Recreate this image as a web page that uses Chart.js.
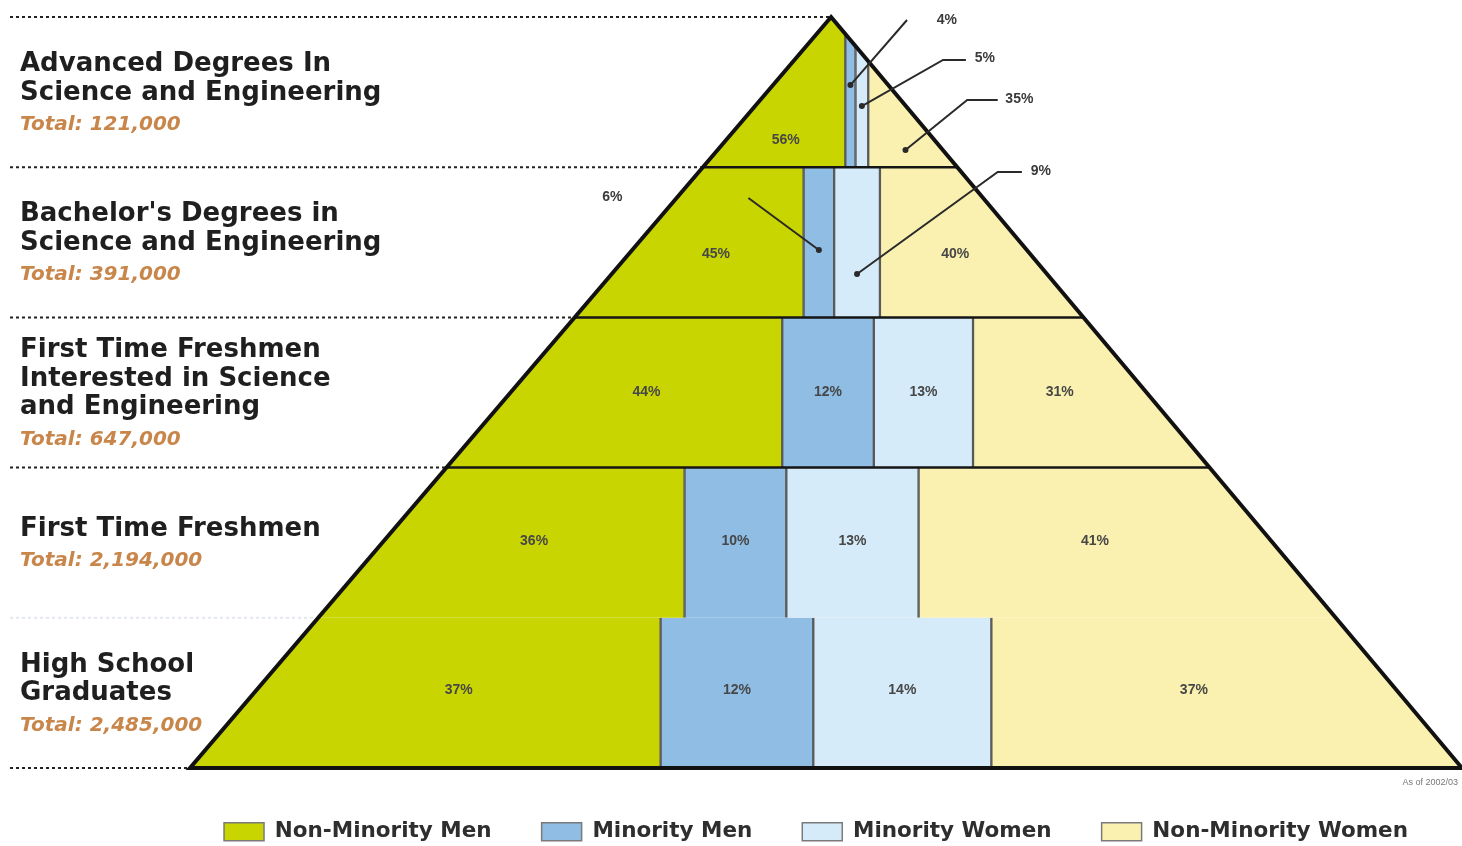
<!DOCTYPE html>
<html>
<head>
<meta charset="utf-8">
<script src="https://cdn.jsdelivr.net/npm/chart.js@4.4.1/dist/chart.umd.min.js"></script>
<style>
  html, body { margin: 0; padding: 0; background: #ffffff; overflow: hidden; }
  #wrap { width: 1462px; height: 846px; position: relative; }
</style>
</head>
<body>
<div id="wrap"><canvas id="c"></canvas></div>
<script>
// ---------------- DATA ----------------
const categories = [
  'Advanced Degrees in Science and Engineering',
  "Bachelor's Degrees in Science and Engineering",
  'First Time Freshmen Interested in Science and Engineering',
  'First Time Freshmen',
  'High School Graduates'
];
const categoryTitleLines = [
  ['Advanced Degrees In', 'Science and Engineering'],
  ["Bachelor's Degrees in", 'Science and Engineering'],
  ['First Time Freshmen', 'Interested in Science', 'and Engineering'],
  ['First Time Freshmen'],
  ['High School', 'Graduates']
];
const totals = [121000, 391000, 647000, 2194000, 2485000];
const seriesNames = ['Non-Minority Men', 'Minority Men', 'Minority Women', 'Non-Minority Women'];
const nonMinorityMen   = [56, 45, 44, 36, 37];
const minorityMen      = [4, 6, 12, 10, 12];
const minorityWomen    = [5, 9, 13, 13, 14];
const nonMinorityWomen = [35, 40, 31, 41, 37];
const seriesColors = ['#c9d500', '#8fbde4', '#d6ebfa', '#faf1b0'];
const sourceNote = 'As of 2002/03';

// ---------------- GEOMETRY (pyramid in x-axis units) ----------------
const seriesValues = [nonMinorityMen, minorityMen, minorityWomen, nonMinorityWomen];
const nRows = categories.length;
const BASE_LEFT = -50.4, BASE_RIGHT = 49.6;   // pyramid base, apex at x = 0
const X_MIN = -51.972, X_MAX = BASE_RIGHT;    // axis range around the pyramid
function rowSpan(k) { const f = (k + 1) / nRows; return [BASE_LEFT * f, BASE_RIGHT * f]; }
function floatingData(j) {
  return categories.map((c, k) => {
    const [a, b] = rowSpan(k); const w = b - a;
    let cum = 0; for (let i = 0; i < j; i++) cum += seriesValues[i][k];
    return [a + w * cum / 100, a + w * (cum + seriesValues[j][k]) / 100];
  });
}

// label placement (row-relative) and callouts (axis units; t = continuous row coordinate)
const labelT = [0.82, 1.58, 2.5, 3.49, 4.48];
const callouts = [
  { row: 0, series: 1, dotT: 0.453, path: [[5.97, 0.02]], label: [8.3, 0.02], align: 'left' },
  { row: 0, series: 2, dotT: 0.593, path: [[8.8, 0.286], [10.6, 0.286]], label: [11.3, 0.275], align: 'left' },
  { row: 0, series: 3, dotT: 0.885, path: [[10.7, 0.553], [13.1, 0.553]], label: [13.7, 0.546], align: 'left' },
  { row: 1, series: 2, dotT: 1.711, path: [[13.1, 1.032], [15.0, 1.032]], label: [15.7, 1.025], align: 'left' },
  { row: 1, series: 1, dotT: 1.551, path: [[-6.5, 1.205]], label: [-16.4, 1.198], align: 'right' }
];
const solidSeparators = [1, 2, 3];

function geom(chart) {
  const xs = chart.scales.x, ys = chart.scales.y;
  const band = ys.getPixelForValue(1) - ys.getPixelForValue(0);
  const top = ys.getPixelForValue(0) - band / 2;
  const bottom = top + nRows * band;
  const apexX = xs.getPixelForValue(0);
  const leftX = xs.getPixelForValue(BASE_LEFT);
  const rightX = xs.getPixelForValue(BASE_RIGHT);
  const yAt = t => top + t * band;
  const leftEdge = py => apexX + (leftX - apexX) * (py - top) / (bottom - top);
  const rightEdge = py => apexX + (rightX - apexX) * (py - top) / (bottom - top);
  return { xs, ys, band, top, bottom, apexX, leftX, rightX, yAt, leftEdge, rightEdge };
}

const pyramidPlugin = {
  id: 'pyramid',
  beforeDatasetsDraw(chart) {
    const g = geom(chart), ctx = chart.ctx;
    ctx.save();
    ctx.beginPath();
    ctx.moveTo(g.apexX, g.top);
    ctx.lineTo(g.rightX, g.bottom);
    ctx.lineTo(g.leftX, g.bottom);
    ctx.closePath();
    ctx.clip();
  },
  afterDatasetsDraw(chart) {
    const ctx = chart.ctx;
    ctx.restore();
    const g = geom(chart);

    // dashed guide lines on the left
    for (let k = 0; k <= nRows; k++) {
      const py = g.top + k * g.band;
      ctx.save();
      ctx.setLineDash([3, 3]);
      ctx.lineWidth = 2;
      ctx.strokeStyle = (k === 4) ? '#e3e8ef' : '#222';
      ctx.beginPath();
      ctx.moveTo(10, py);
      ctx.lineTo(g.leftEdge(py), py);
      ctx.stroke();
      ctx.restore();
    }

    // row separators inside the pyramid
    ctx.save();
    ctx.strokeStyle = '#151515';
    ctx.lineWidth = 2.5;
    solidSeparators.forEach(k => {
      const py = g.top + k * g.band;
      ctx.beginPath();
      ctx.moveTo(g.leftEdge(py), py);
      ctx.lineTo(g.rightEdge(py), py);
      ctx.stroke();
    });
    ctx.restore();

    // outline
    ctx.save();
    ctx.strokeStyle = '#111';
    ctx.lineWidth = 4;
    ctx.lineJoin = 'miter';
    ctx.beginPath();
    ctx.moveTo(g.apexX, g.top);
    ctx.lineTo(g.rightX, g.bottom);
    ctx.lineTo(g.leftX, g.bottom);
    ctx.closePath();
    ctx.stroke();
    ctx.restore();

    // segment value labels
    const calloutKeys = new Set(callouts.map(c => c.row + ':' + c.series));
    const segX = (k, j, py) => {
      const d = chart.data.datasets[j].data[k];
      const a = Math.max(g.xs.getPixelForValue(d[0]), g.leftEdge(py));
      const b = Math.min(g.xs.getPixelForValue(d[1]), g.rightEdge(py));
      return (a + b) / 2;
    };
    ctx.save();
    ctx.font = 'bold 14px "Liberation Sans", Arial, sans-serif';
    ctx.fillStyle = '#474747';
    ctx.textAlign = 'center';
    ctx.textBaseline = 'middle';
    for (let k = 0; k < nRows; k++) {
      const py = g.yAt(labelT[k]);
      for (let j = 0; j < seriesValues.length; j++) {
        if (calloutKeys.has(k + ':' + j)) continue;
        ctx.fillText(seriesValues[j][k] + '%', segX(k, j, py), py);
      }
    }
    ctx.restore();

    // callouts
    ctx.save();
    ctx.strokeStyle = '#2a2a2a';
    ctx.fillStyle = '#2a2a2a';
    ctx.lineWidth = 2;
    ctx.font = 'bold 14px "Liberation Sans", Arial, sans-serif';
    ctx.textBaseline = 'middle';
    callouts.forEach(c => {
      const dy = g.yAt(c.dotT);
      const dx = segX(c.row, c.series, dy);
      ctx.beginPath();
      ctx.moveTo(dx, dy);
      c.path.forEach(p => ctx.lineTo(g.xs.getPixelForValue(p[0]), g.yAt(p[1])));
      ctx.stroke();
      ctx.beginPath();
      ctx.arc(dx, dy, 3, 0, Math.PI * 2);
      ctx.fill();
      ctx.textAlign = c.align;
      ctx.fillStyle = '#3a3a3a';
      ctx.fillText(seriesValues[c.series][c.row] + '%', g.xs.getPixelForValue(c.label[0]), g.yAt(c.label[1]));
      ctx.fillStyle = '#2a2a2a';
    });
    ctx.restore();

    // row titles and totals on the left
    ctx.save();
    ctx.textAlign = 'left';
    ctx.textBaseline = 'middle';
    for (let k = 0; k < nRows; k++) {
      const lines = categoryTitleLines[k];
      const center = g.top + (k + 0.5) * g.band;
      const span = (lines.length - 1) * 28.5 + 32;
      let y = center - span / 2 + 2.5;
      ctx.font = 'bold 26px "DejaVu Sans", sans-serif';
      ctx.fillStyle = '#1f1f1f';
      lines.forEach((ln, i) => ctx.fillText(ln, 20, y + i * 28.5));
      ctx.font = 'italic bold 20px "DejaVu Sans", sans-serif';
      ctx.fillStyle = '#c8864a';
      ctx.fillText('Total: ' + totals[k].toLocaleString('en-US'), 20, y + (lines.length - 1) * 28.5 + 32);
    }
    // source note
    ctx.font = '9px "Liberation Sans", Arial, sans-serif';
    ctx.fillStyle = '#777';
    ctx.textAlign = 'right';
    ctx.fillText(sourceNote, 1458, g.bottom + 15);
    ctx.restore();
  }
};

new Chart(document.getElementById('c'), {
  type: 'bar',
  data: {
    labels: categories,
    datasets: seriesNames.map((name, j) => ({
      label: name,
      data: floatingData(j),
      backgroundColor: seriesColors[j],
      borderColor: '#5a5a5a',
      borderWidth: { left: 1.5, right: 1.5, top: 0, bottom: 0 },
      borderSkipped: false,
      barPercentage: 1,
      categoryPercentage: 1
    }))
  },
  options: {
    indexAxis: 'y',
    responsive: true,
    maintainAspectRatio: false,
    animation: false,
    layout: { padding: { left: 170, right: 0, top: 17, bottom: -6.5 } },
    scales: {
      x: {
        type: 'linear', min: X_MIN, max: X_MAX, stacked: false, display: true,
        grid: { display: false }, border: { display: false }, ticks: { display: false },
        afterFit(scale) { scale.height = 3; }
      },
      y: { type: 'category', stacked: true, display: false, grid: { display: false } }
    },
    plugins: {
      tooltip: { enabled: false },
      legend: {
        position: 'bottom',
        labels: {
          boxWidth: 40,
          boxHeight: 18,
          padding: 50,
          color: '#2e2e2e',
          font: { family: '"DejaVu Sans", sans-serif', size: 21.5, weight: 'bold' },
          generateLabels(chart) {
            return Chart.defaults.plugins.legend.labels.generateLabels(chart).map(l => {
              l.lineWidth = 1.5; l.strokeStyle = '#7a7a7a'; return l;
            });
          }
        }
      }
    }
  },
  plugins: [pyramidPlugin]
});
</script>
</body>
</html>
